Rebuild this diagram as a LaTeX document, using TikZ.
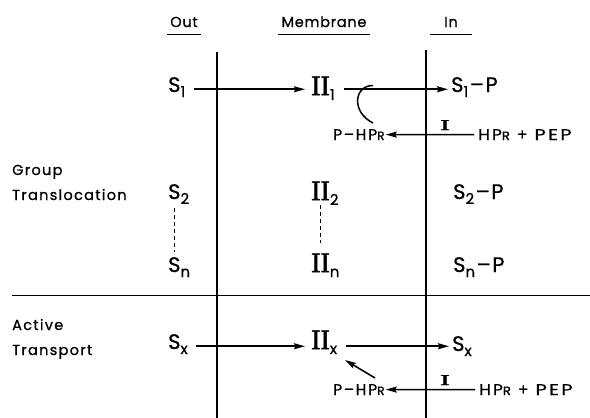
\documentclass[tikz,border=0pt]{standalone}
\usepackage{fontspec}
\usepackage{graphicx}
\setmainfont{Poppins}[LetterSpace=5,FakeBold=0.8]
\newfontfamily\romfont{Liberation Serif}[FakeBold=1.8]
\usetikzlibrary{arrows.meta}
\newcommand\sbs[1]{\raisebox{-5pt}{\normalfont\fontsize{15}{15}\selectfont #1}}
\newcommand\smR{{\fontsize{12}{12}\selectfont R}}
\newcommand\bond{\kern1.5pt–\kern1.5pt}
\newcommand\hppep{\scalebox{1.1}[1]{HP\smR}\hspace{7pt}+\hspace{7pt}\scalebox{1.25}[1]{PEP}}
\begin{document}
\begin{tikzpicture}[x=1pt,y=-1pt,
  lbl/.style={inner sep=0pt, anchor=base west, font=\fontsize{14.5}{25}\selectfont},
  chem/.style={inner sep=0pt, anchor=base west, font=\fontsize{15.5}{16}\selectfont\addfontfeature{LetterSpace=12}},
  hdr/.style={inner sep=0pt, anchor=base, font=\fontsize{14.5}{17}\selectfont},
  sym/.style={inner sep=0pt, anchor=base west, font=\fontsize{21}{21}\selectfont},
  mem/.style={inner sep=0pt, anchor=base west, font=\fontsize{28}{28}\selectfont\romfont},
  enz/.style={inner sep=0pt, anchor=base, font=\fontsize{15}{15}\selectfont\romfont},
  wall/.style={line width=1.6pt},
  sep/.style={line width=1pt},
  uline/.style={line width=1pt},
  arr/.style={line width=1.6pt, -{Stealth[length=11pt,width=6pt,inset=1.5pt]}},
  dsh/.style={line width=1.2pt, dash pattern=on 4pt off 3pt}]
\useasboundingbox (0,0) rectangle (590,418);

% headers
\node[hdr] (hOut) at (184,27) {Out};
\node[hdr] (hMem) at (324,27) {Membrane};
\node[hdr] (hIn) at (451,27) {In};
\draw[uline] ([xshift=-3pt,yshift=-7pt]hOut.base west) -- ([xshift=3pt,yshift=-7pt]hOut.base east);
\draw[uline] ([xshift=-3pt,yshift=-7pt]hMem.base west) -- ([xshift=3pt,yshift=-7pt]hMem.base east);
\draw[uline] ([xshift=-14pt,yshift=-7pt]hIn.base west) -- ([xshift=14pt,yshift=-7pt]hIn.base east);

% membrane walls and separator
\coordinate (Lt) at (217,52); \coordinate (Lb) at (217,418);
\coordinate (Rt) at (426,50); \coordinate (Rb) at (426,418);
\coordinate (Sl) at (12,295); \coordinate (Sr) at (590,295);
\draw[wall] (Lt) -- (Lb);
\draw[wall] (Rt) -- (Rb);
\draw[sep] (Sl) -- (Sr);

% side labels
\node[lbl, align=left, font=\fontsize{14.5}{25}\selectfont\addfontfeature{LetterSpace=9}] (gt) at (12,200) {Group\\Translocation};
\node[lbl, align=left, font=\fontsize{14.5}{25}\selectfont\addfontfeature{LetterSpace=9}] (at) at (12,355) {Active\\Transport};

% row 1
\node[sym] (S1) at (168,92) {S\sbs{1}};
\node[mem] (M1) at (311,95) {II\sbs{1}};
\node[sym] (S1P) at (451,92) {S\sbs{1}\bond P};
\node[chem] (PH1) at (333,140) {P\bond HP\smR};
\node[chem] (HP1) at (478,140) {\hppep};
\node[enz] (E1) at (445,130) {\scalebox{2}[1]{I}};

% rows 2 and n
\node[sym] (S2) at (168,199) {S\sbs{2}};
\node[mem] (M2) at (311,200) {II\sbs{2}};
\node[sym] (S2P) at (453,199) {S\sbs{2}\bond P};
\node[sym] (Sn) at (168,272) {S\sbs{n}};
\node[mem] (Mn) at (311,272) {II\sbs{n}};
\node[sym] (SnP) at (453,272) {S\sbs{n}\bond P};

% active transport row
\node[sym] (Sx) at (168,349) {S\sbs{x}};
\node[mem] (Mx) at (311,349) {II\sbs{x}};
\node[sym] (Sxr) at (452,351) {S\sbs{x}};
\node[chem] (PH2) at (333,395) {P\bond HP\smR};
\node[chem] (HP2) at (479,395) {\hppep};
\node[enz] (E2) at (445,385) {\scalebox{2}[1]{I}};

% arrows, group translocation
\draw[arr, shorten <=8pt, shorten >=6pt] (S1.mid east) -- (S1.mid east -| M1.west);
\draw[arr, shorten <=9pt, shorten >=3pt] (M1.east |- S1P.mid west) -- (S1P.mid west);
\draw[arr, shorten <=4pt, shorten >=1pt] (HP1.west) -- (PH1.east);
\coordinate (a1) at (373,85.5);
\coordinate (a2) at (373,123);
\draw[line width=1.5pt] (a1) .. controls (354,85.5) and (351,112) .. (a2);
\draw[dsh, shorten <=4pt, shorten >=5pt] ([xshift=6.5pt]S2.south west) -- ([xshift=6.5pt]Sn.north west);
\draw[dsh, shorten <=0pt, shorten >=10pt] ([xshift=9.5pt]M2.south west) -- ([xshift=9.5pt]Mn.north west);

% arrows, active transport
\draw[arr, shorten <=8pt, shorten >=6pt] (Sx.mid east) -- (Sx.mid east -| Mx.west);
\draw[arr, shorten <=9pt, shorten >=3pt] (Mx.east |- Sx.mid east) -- (Sx.mid east -| Sxr.west);
\draw[arr, shorten <=4pt, shorten >=1pt] (HP2.west) -- (PH2.east);
\coordinate (d1) at (375,378);
\coordinate (d2) at (345,360);
\draw[arr] (d1) -- (d2);
\end{tikzpicture}
\end{document}
